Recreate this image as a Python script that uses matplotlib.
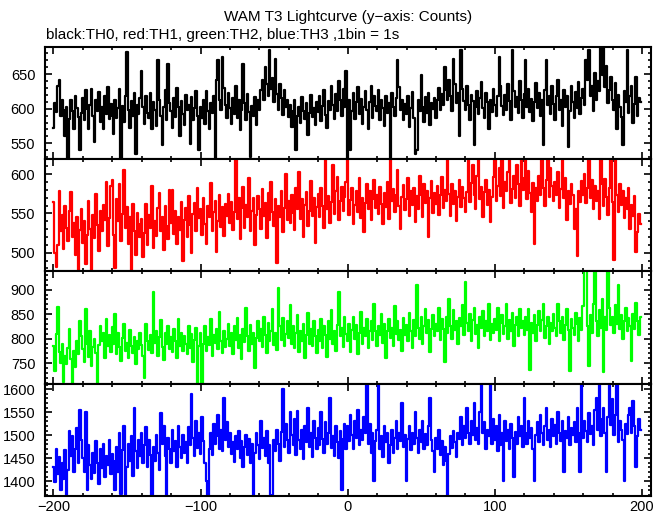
import numpy as np
import matplotlib
matplotlib.use("Agg")
import matplotlib.pyplot as plt
from matplotlib.ticker import MultipleLocator

plt.rcParams['font.family'] = ['Liberation Sans', 'DejaVu Sans']

# lightcurve counts per 1 s bin, starting at t = -200 s
th0 = [572, 608, 595, 632, 641, 590, 612, 598, 560, 603, 527, 585, 612, 596, 570, 618, 601, 588, 540, 594,
       615, 583, 627, 599, 571, 605, 628, 590, 552, 612, 596, 624, 581, 603, 570, 618, 592, 631, 585, 607,
       590, 563, 612, 587, 601, 628, 527, 604, 581, 619, 682, 598, 572, 611, 589, 622, 535, 606, 593, 615,
       655, 602, 578, 618, 594, 586, 623, 571, 609, 598, 575, 670, 612, 590, 548, 603, 627, 584, 665, 608,
       596, 572, 615, 588, 630, 602, 561, 611, 593, 577, 620, 598, 606, 549, 617, 583, 601, 625, 590, 541,
       603, 587, 612, 578, 625, 596, 571, 608, 594, 618, 527, 641, 670, 612, 598, 675, 630, 606, 587, 622,
       601, 578, 616, 592, 633, 587, 612, 569, 598, 665, 608, 583, 621, 595, 530, 604, 589, 617, 576, 612,
       598, 627, 641, 612, 660, 635, 618, 685, 628, 644, 609, 672, 621, 598, 636, 615, 591, 627, 603, 612,
       588, 606, 574, 597, 612, 541, 590, 603, 579, 617, 596, 585, 608, 562, 594, 620, 588, 601, 576, 609,
       595, 618, 582, 604, 627, 591, 572, 611, 598, 632, 606, 585, 621, 597, 640, 612, 589, 628, 603, 655,
       527, 612, 540, 596, 623, 585, 609, 631, 592, 614, 578, 603, 625, 598, 571, 610, 633, 587, 619, 604,
       596, 627, 583, 612, 601, 575, 618, 594, 608, 527, 622, 603, 589, 615, 670, 631, 598, 612, 584, 607,
       592, 618, 573, 601, 624, 587, 535, 540, 612, 596, 648, 603, 581, 617, 594, 622, 576, 608, 599, 615,
       587, 612, 630, 598, 621, 605, 660, 627, 612, 641, 618, 596, 672, 635, 608, 623, 560, 685, 629, 611,
       598, 632, 605, 584, 620, 611, 547, 603, 626, 592, 615, 638, 601, 587, 622, 609, 571, 613, 595, 628,
       606, 589, 618, 675, 632, 604, 591, 620, 598, 635, 611, 583, 685, 626, 603, 617, 594, 640, 612, 586,
       621, 670, 603, 628, 595, 614, 582, 609, 637, 601, 622, 590, 613, 548, 627, 670, 606, 618, 592, 633,
       607, 584, 619, 641, 598, 612, 575, 627, 603, 618, 545, 596, 632, 610, 587, 624, 601, 639, 593, 615,
       628, 605, 670, 642, 685, 619, 633, 597, 651, 612, 640, 625, 689, 648, 689, 631, 662, 608, 627, 645,
       612, 598, 637, 571, 620, 603, 588, 548, 626, 609, 685, 594, 618, 632, 580, 607, 645, 590, 615, 609]

th1 = [564, 500, 482, 510, 578, 527, 548, 505, 560, 531, 515, 553, 577, 520, 538, 497, 545, 476, 529, 556,
       512, 540, 485, 523, 566, 530, 476, 548, 519, 575, 535, 502, 553, 527, 561, 541, 590, 508, 544, 585,
       593, 522, 480, 568, 540, 587, 515, 549, 605, 532, 558, 511, 546, 476, 562, 528, 497, 551, 536, 520,
       543, 495, 525, 562, 510, 548, 531, 585, 506, 540, 521, 557, 576, 528, 545, 503, 560, 534, 517, 580,
       538, 580, 524, 553, 511, 546, 529, 565, 490, 541, 557, 520, 572, 535, 500, 549, 563, 527, 582, 544,
       556, 523, 570, 537, 511, 560, 545, 589, 528, 552, 566, 501, 540, 574, 533, 558, 521, 562, 547, 575,
       538, 565, 529, 552, 622, 543, 570, 518, 557, 584, 532, 561, 546, 595, 527, 553, 569, 510, 548, 572,
       555, 530, 581, 547, 563, 519, 576, 541, 590, 552, 534, 568, 487, 560, 545, 578, 526, 557, 600, 542,
       566, 538, 574, 551, 529, 582, 556, 603, 543, 568, 520, 561, 577, 534, 553, 591, 547, 569, 512, 558,
       575, 546, 583, 560, 531, 622, 555, 572, 538, 564, 612, 549, 578, 597, 541, 566, 584, 553, 571, 590,
       622, 548, 567, 583, 536, 561, 578, 552, 595, 544, 570, 526, 563, 587, 556, 579, 541, 568, 592, 557,
       573, 549, 584, 562, 537, 576, 558, 590, 543, 622, 566, 581, 552, 574, 605, 559, 530, 571, 586, 554,
       568, 595, 547, 579, 561, 583, 539, 572, 556, 598, 574, 545, 587, 563, 578, 520, 569, 591, 551, 576,
       562, 585, 548, 573, 596, 557, 580, 566, 622, 575, 547, 588, 562, 579, 540, 571, 593, 558, 584, 569,
       552, 577, 622, 564, 589, 612, 573, 556, 598, 622, 568, 584, 545, 577, 592, 561, 580, 539, 571, 597,
       622, 566, 585, 608, 572, 622, 557, 590, 578, 603, 622, 563, 581, 598, 570, 612, 587, 559, 622, 580,
       595, 622, 568, 604, 576, 552, 589, 511, 583, 566, 598, 574, 622, 582, 560, 593, 622, 571, 608, 585,
       566, 590, 574, 603, 557, 581, 622, 569, 595, 542, 578, 562, 588, 573, 530, 556, 496, 579, 565, 591,
       574, 600, 563, 583, 622, 570, 592, 555, 585, 566, 579, 543, 622, 588, 560, 594, 571, 548, 583, 622,
       565, 491, 622, 573, 552, 587, 561, 578, 544, 569, 556, 583, 530, 561, 547, 572, 501, 526, 549, 537]

th2 = [786, 735, 810, 864, 772, 750, 790, 712, 765, 748, 780, 820, 758, 710, 775, 742, 795, 768, 835, 805,
       778, 752, 861, 790, 763, 815, 745, 782, 800, 770, 708, 787, 826, 795, 812, 760, 840, 785, 808, 772,
       824, 790, 850, 768, 812, 783, 755, 802, 830, 775, 792, 760, 818, 785, 770, 804, 748, 795, 779, 812,
       788, 765, 720, 830, 795, 776, 808, 770, 895, 792, 815, 765, 803, 838, 782, 757, 812, 790, 826, 779,
       804, 772, 820, 795, 760, 840, 786, 812, 775, 805, 790, 768, 825, 780, 810, 752, 798, 822, 706, 785,
       812, 702, 790, 826, 775, 803, 788, 840, 765, 808, 792, 820, 778, 855, 796, 770, 815, 783, 800, 830,
       785, 812, 768, 825, 797, 842, 780, 808, 758, 819, 793, 862, 806, 775, 828, 790, 812, 740, 801, 835,
       796, 820, 782, 845, 808, 770, 832, 795, 815, 860, 788, 812, 776, 903, 825, 798, 842, 785, 810, 835,
       802, 868, 790, 825, 780, 812, 848, 772, 815, 795, 830, 760, 808, 852, 790, 820, 784, 836, 805, 770,
       818, 795, 840, 780, 826, 808, 762, 835, 800, 858, 790, 815, 775, 828, 896, 805, 822, 782, 845, 810,
       795, 830, 772, 818, 845, 800, 828, 768, 812, 855, 790, 822, 805, 840, 780, 816, 835, 798, 870, 815,
       786, 825, 808, 850, 792, 830, 760, 815, 840, 802, 822, 785, 866, 810, 835, 798, 818, 775, 842, 808,
       828, 795, 852, 815, 780, 838, 805, 910, 822, 800, 845, 790, 826, 860, 812, 838, 772, 820, 848, 805,
       830, 815, 862, 798, 840, 820, 752, 845, 812, 880, 826, 800, 858, 818, 835, 790, 842, 825, 868, 808,
       915, 832, 815, 850, 795, 838, 862, 810, 828, 780, 845, 822, 856, 805, 835, 815, 870, 798, 830, 812,
       840, 818, 862, 795, 832, 848, 810, 826, 870, 800, 838, 815, 852, 785, 828, 845, 806, 860, 822, 835,
       808, 845, 818, 860, 737, 832, 812, 848, 795, 828, 856, 815, 838, 870, 802, 826, 845, 790, 832, 815,
       850, 822, 805, 870, 836, 812, 845, 798, 828, 860, 818, 735, 840, 822, 808, 852, 830, 796, 842, 818,
       866, 937, 940, 825, 745, 848, 812, 870, 940, 835, 805, 858, 822, 880, 731, 845, 818, 940, 862, 828,
       845, 812, 868, 830, 910, 820, 848, 800, 835, 862, 815, 842, 826, 755, 850, 820, 872, 835, 808, 845]

th3 = [1430, 1398, 1470, 1415, 1452, 1380, 1440, 1405, 1468, 1368, 1425, 1510, 1455, 1498, 1420, 1470, 1515, 1440, 1555, 1490,
       1450, 1420, 1550, 1380, 1478, 1435, 1405, 1462, 1418, 1488, 1440, 1395, 1470, 1428, 1482, 1410, 1455, 1436, 1490, 1415,
       1460, 1445, 1380, 1475, 1420, 1505, 1372, 1468, 1520, 1370, 1430, 1480, 1445, 1498, 1412, 1560, 1465, 1428, 1490, 1455,
       1505, 1440, 1478, 1518, 1432, 1490, 1458, 1368, 1475, 1445, 1500, 1462, 1425, 1548, 1480, 1520, 1456, 1370, 1495, 1470,
       1440, 1512, 1465, 1488, 1430, 1520, 1475, 1450, 1500, 1462, 1485, 1440, 1518, 1478, 1590, 1495, 1455, 1530, 1472, 1505,
       1460, 1540, 1488, 1440, 1400, 1368, 1470, 1505, 1458, 1525, 1482, 1498, 1545, 1470, 1512, 1465, 1580, 1490, 1528, 1475,
       1505, 1460, 1485, 1442, 1498, 1470, 1510, 1450, 1488, 1432, 1475, 1500, 1458, 1492, 1440, 1480, 1370, 1462, 1505, 1478,
       1448, 1530, 1472, 1495, 1455, 1510, 1440, 1478, 1368, 1370, 1490, 1465, 1512, 1480, 1445, 1508, 1600, 1475, 1525, 1490,
       1462, 1550, 1500, 1478, 1535, 1458, 1552, 1490, 1470, 1512, 1448, 1520, 1485, 1560, 1475, 1505, 1452, 1532, 1495, 1470,
       1515, 1478, 1550, 1492, 1462, 1528, 1480, 1505, 1580, 1472, 1498, 1455, 1520, 1485, 1450, 1510, 1381, 1492, 1525, 1470,
       1520, 1488, 1545, 1500, 1470, 1532, 1495, 1555, 1478, 1512, 1490, 1540, 1505, 1612, 1480, 1525, 1462, 1505, 1400, 1488,
       1512, 1615, 1470, 1498, 1452, 1520, 1485, 1505, 1440, 1478, 1512, 1462, 1495, 1530, 1470, 1505, 1488, 1570, 1475, 1500,
       1400, 1492, 1520, 1468, 1505, 1480, 1550, 1495, 1462, 1512, 1485, 1530, 1470, 1502, 1478, 1520, 1580, 1490, 1465, 1420,
       1495, 1470, 1512, 1458, 1488, 1435, 1475, 1445, 1368, 1460, 1498, 1472, 1510, 1485, 1452, 1505, 1492, 1540, 1478, 1520,
       1495, 1560, 1505, 1482, 1530, 1500, 1570, 1490, 1515, 1480, 1550, 1615, 1505, 1528, 1470, 1512, 1498, 1615, 1480, 1535,
       1490, 1520, 1465, 1545, 1478, 1505, 1400, 1530, 1488, 1512, 1470, 1525, 1495, 1410, 1508, 1480, 1540, 1498, 1520, 1475,
       1580, 1505, 1482, 1530, 1495, 1515, 1470, 1400, 1500, 1528, 1485, 1545, 1505, 1478, 1520, 1560, 1490, 1512, 1475, 1535,
       1498, 1522, 1480, 1550, 1505, 1488, 1532, 1420, 1510, 1495, 1540, 1478, 1515, 1500, 1528, 1485, 1560, 1505, 1420, 1615,
       1495, 1530, 1510, 1485, 1548, 1502, 1520, 1478, 1555, 1580, 1512, 1615, 1498, 1535, 1560, 1505, 1420, 1540, 1615, 1522,
       1578, 1500, 1545, 1615, 1485, 1530, 1512, 1490, 1400, 1525, 1502, 1545, 1560, 1505, 1575, 1520, 1430, 1498, 1535, 1512]

t_start = -200
series = [th0, th1, th2, th3]
colors = ['black', 'red', '#00ff00', 'blue']
ylims = [(527, 689), (476, 619), (708, 937), (1368, 1612)]

fig, axes = plt.subplots(4, 1, figsize=(6.69, 5.15), dpi=100, sharex=True)
fig.subplots_adjust(left=0.0673, right=0.9726, top=1 - 47 / 515, bottom=0.0369, hspace=0)

for ax, y, c, lim in zip(axes, series, colors, ylims):
    t = t_start + np.arange(len(y))
    ax.plot(t, y, color=c, lw=1.6, drawstyle='steps-mid')
    ax.set_ylim(lim)
    ax.set_xlim(-205.7, 205.9)
    ax.xaxis.set_major_locator(MultipleLocator(100))
    ax.xaxis.set_minor_locator(MultipleLocator(20))
    ax.yaxis.set_major_locator(MultipleLocator(50))
    ax.yaxis.set_minor_locator(MultipleLocator(10))
    ax.tick_params(which='both', direction='in', top=True, right=True, labelsize=10.5, width=1.2)
    ax.tick_params(which='major', length=5, pad=7)
    ax.tick_params(which='minor', length=2.5)
    ax.tick_params(axis='x', which='major', pad=3)
    for s in ax.spines.values():
        s.set_linewidth(1.5)

fig.text(348 / 669, 1 - 17 / 515, 'WAM T3 Lightcurve (y\u2212axis: Counts)', ha='center', va='center', fontsize=11)
fig.text(46 / 669, 1 - 35 / 515, 'black:TH0, red:TH1, green:TH2, blue:TH3 ,1bin = 1s', ha='left', va='center', fontsize=11)

fig.savefig('out.png', dpi=100)
